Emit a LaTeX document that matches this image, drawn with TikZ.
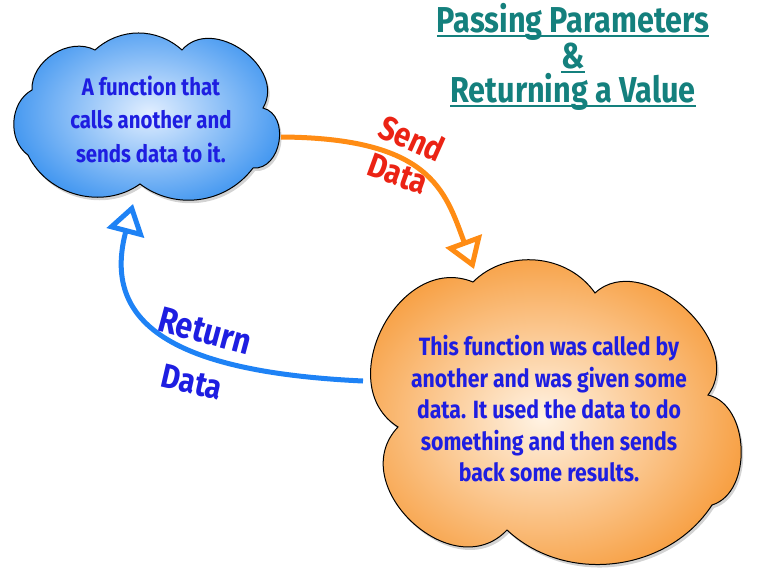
\documentclass[tikz,border=0pt]{standalone}
\usepackage{fontspec}
\setmainfont[FakeStretch=0.85]{Fira Sans}
\usetikzlibrary{shadows,arrows.meta}
\definecolor{inkblue}{RGB}{30,30,225}
\definecolor{titleteal}{RGB}{20,128,125}
\definecolor{sendred}{RGB}{235,35,20}
\definecolor{arroworange}{RGB}{255,140,20}
\definecolor{arrowblue}{RGB}{30,130,245}
\definecolor{blueinner}{RGB}{225,238,255}
\definecolor{blueouter}{RGB}{65,150,240}
\definecolor{orangeinner}{RGB}{255,243,228}
\definecolor{orangeouter}{RGB}{247,158,64}
\newcommand\titleline[1]{\setbox0\hbox{#1}\rlap{\raisebox{-5pt}{\rule{\wd0}{2pt}}}\box0}
\begin{document}
\begin{tikzpicture}[x=1pt,y=-1pt,
  cloudpath/.style={draw=black, line width=1pt, shading=radial,
    drop shadow={opacity=0.35, shadow xshift=2pt, shadow yshift=-3pt}},
  cloudtext/.style={align=center, text=inkblue, inner sep=0pt},
  flow/.style={line width=5pt, -{Triangle[open, length=30pt, width=38pt]}},
  tag/.style={inner sep=0pt, font=\bfseries\fontsize{34}{36}\selectfont},
  heading/.style={text=titleteal, anchor=base, inner sep=0pt,
    font=\bfseries\fontsize{36}{38}\selectfont}]
  \useasboundingbox (0,0) rectangle (764,582);

  % title
  \node[heading] (title1) at (573,32) {\titleline{Passing Parameters}};
  \node[heading] (title2) at (573,68) {\titleline{\&}};
  \node[heading] (title3) at (573,102) {\titleline{Returning a Value}};

  % caller cloud outline
  \path[cloudpath, inner color=blueinner, outer color=blueouter]
    (95,50) to[bend left=42] (182,50)
    to[bend left=85, looseness=1.2] (263,108)
    to[bend left=85, looseness=1.2] (253,168)
    to[bend left=45] (140,184)
    to[bend left=50] (28,155)
    to[bend left=58] (32,90)
    to[bend left=60] cycle;

  % callee cloud outline
  \path[cloudpath, inner color=orangeinner, outer color=orangeouter]
    (473,282) to[bend left=50] (595,293)
    to[bend left=85, looseness=1.1] (708,395)
    to[bend left=75] (712,505)
    to[bend left=50] (507,530)
    to[bend left=90, looseness=1.35] (398,427)
    to[bend left=85, looseness=1.25] cycle;

  % cloud texts
  \node[cloudtext, font=\bfseries\fontsize{24}{33.5}\selectfont]
    (caller) at (151,119) {A function that\\calls another and\\sends data to it.};
  \node[cloudtext, font=\bfseries\fontsize{25}{31.5}\selectfont]
    (callee) at (549,409) {This function was called by\\another and was given some\\data. It used the data to do\\something and then sends\\back some results.};

  % connectors
  \coordinate (callerport) at (281,137);
  \coordinate (calleeport) at (363,381);
  \coordinate (sendtip) at (474,269);
  \coordinate (rettip) at (133,204);
  \draw[flow, arroworange] (callerport) .. controls (430,138) and (445,190) .. (sendtip);
  \draw[flow, arrowblue] (calleeport) .. controls (170,372) and (102,322) .. (rettip);

  % connector labels
  \node[tag, text=sendred, rotate=-24] (send) at (412,138) {Send};
  \node[tag, text=sendred, rotate=-20] (sdata) at (398,174) {Data};
  \node[tag, text=inkblue, font=\bfseries\fontsize{36}{38}\selectfont, rotate=-15] (ret) at (205,331) {Return};
  \node[tag, text=inkblue, rotate=-13] (rdata) at (192,382) {Data};
\end{tikzpicture}
\end{document}
